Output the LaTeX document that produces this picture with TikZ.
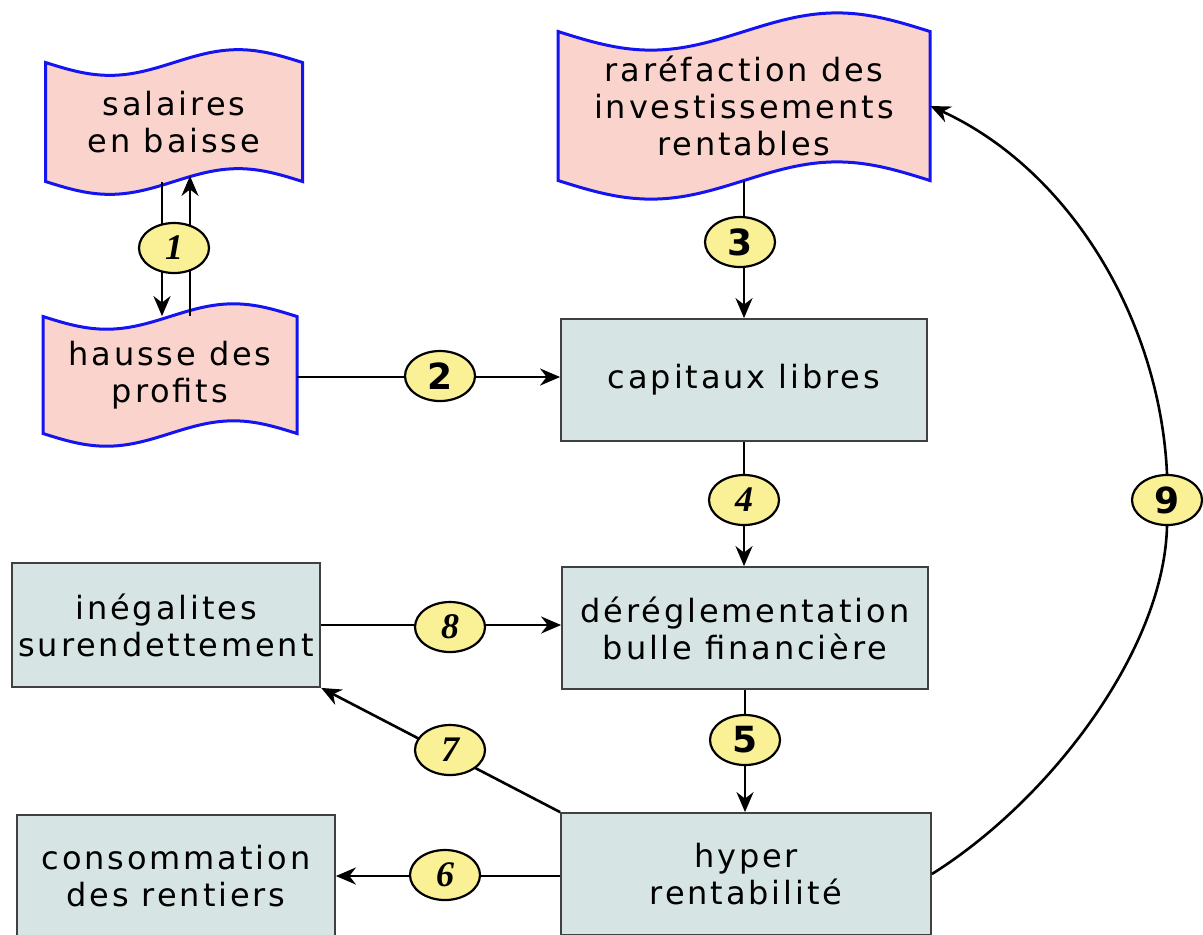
\documentclass[tikz,border=0pt]{standalone}
\usepackage{fontspec}
\setmainfont[LetterSpace=9]{DejaVu Sans}
\newfontfamily\numup{DejaVu Sans}
\newfontfamily\numit{Liberation Serif}
\usetikzlibrary{arrows.meta,shapes.geometric}
\definecolor{tapepink}{HTML}{F9D3CC}
\definecolor{tapeblue}{HTML}{1414F0}
\definecolor{boxgray}{HTML}{D6E4E4}
\definecolor{boxline}{HTML}{404040}
\definecolor{numyellow}{HTML}{FAF096}
\tikzset{
  gbox/.style={draw=boxline,fill=boxgray,line width=0.9pt,minimum width=183pt,minimum height=61pt,
    align=center,font=\fontsize{16}{18.5}\selectfont},
  tape/.style={draw=tapeblue,fill=tapepink,line width=1.5pt},
  tapetext/.style={inner sep=0pt,align=center,font=\fontsize{16}{18.5}\selectfont},
  num/.style={ellipse,draw,fill=numyellow,line width=1.1pt,minimum width=35pt,minimum height=25pt,
    inner sep=0pt,font=\fontsize{18}{18}\selectfont\bfseries},
  arr/.style={line width=1.3pt,-{Stealth[length=10pt,width=8.5pt]}}
}
% wavy tape: name, x, y, width, height, text
\newcommand\tapenode[6]{%
  \path[tape] ({#2-#4/2},{#3-#5/2}) sin ({#2-#4/4},{#3-#5/2+0.05*#4}) cos (#2,{#3-#5/2})
    sin ({#2+#4/4},{#3-#5/2-0.05*#4}) cos ({#2+#4/2},{#3-#5/2}) -- ({#2+#4/2},{#3+#5/2})
    sin ({#2+#4/4},{#3+#5/2-0.05*#4}) cos (#2,{#3+#5/2})
    sin ({#2-#4/4},{#3+#5/2+0.05*#4}) cos ({#2-#4/2},{#3+#5/2}) -- cycle;
  \node[tapetext,minimum width=#4*0.5pt,minimum height=#5*0.5pt] (#1) at (#2,#3) {#6};}
\begin{document}
\begin{tikzpicture}[x=0.5pt,y=-0.5pt]
\useasboundingbox (0,0) rectangle (1203,934);
\tapenode{sal}{174}{122}{257}{119}{salaires\\en baisse}
\tapenode{hau}{170}{375}{254}{117}{hausse des\\profits}
\tapenode{rar}{744}{106}{372}{149}{raréfaction des\\investissements\\rentables}
\node[gbox] (cap) at (744,380) {capitaux libres};
\node[gbox] (dereg) at (745,628) {déréglementation\\bulle financière};
\node[gbox,minimum width=185pt] (hyp) at (746,874) {hyper\\rentabilité};
\node[gbox,minimum width=154pt,minimum height=62pt] (ineg) at (166,625) {inégalites\\surendettement};
\node[gbox,minimum width=159pt] (conso) at (176,876) {consommation\\des rentiers};
% arrows
\draw[arr] ([xshift=-6pt]sal.south) -- ([xshift=-4pt]hau.north);
\draw[arr] ([xshift=10pt]hau.north) -- ([xshift=8pt,yshift=3pt]sal.south);
\draw[arr] ([yshift=-1pt]hau.east) -- ([yshift=-1pt]hau.east -| cap.west);
\draw[arr] (rar.south) -- (rar.south |- cap.north);
\draw[arr] (cap.south) -- (cap.south |- dereg.north);
\draw[arr] (dereg.south) -- (dereg.south |- hyp.north);
\draw[arr] (hyp.west |- conso.east) -- (conso.east);
\draw[arr] (hyp.north west) -- (ineg.south east);
\draw[arr] (ineg.east) -- (ineg.east -| dereg.west);
\node[num] (n9) at (1167,500) {\numup 9};
\draw[line width=1.3pt] (hyp.east) .. controls (1050,800) and (1164,650) .. (n9.south);
\draw[arr] (n9.north) .. controls (1160,320) and (1070,170) .. (rar.east);
% numbers
\node[num] (n1) at (174,248) {\numit\itshape 1};
\node[num] (n2) at (440,376) {\numup 2};
\node[num] (n3) at (740,242) {\numup 3};
\node[num] (n4) at (744,500) {\numit\itshape 4};
\node[num] (n5) at (745,740) {\numup 5};
\node[num] (n6) at (445,875) {\numit\itshape 6};
\node[num] (n7) at (450,750) {\numit\itshape 7};
\node[num] (n8) at (450,627) {\numit\itshape 8};
\end{tikzpicture}
\end{document}
